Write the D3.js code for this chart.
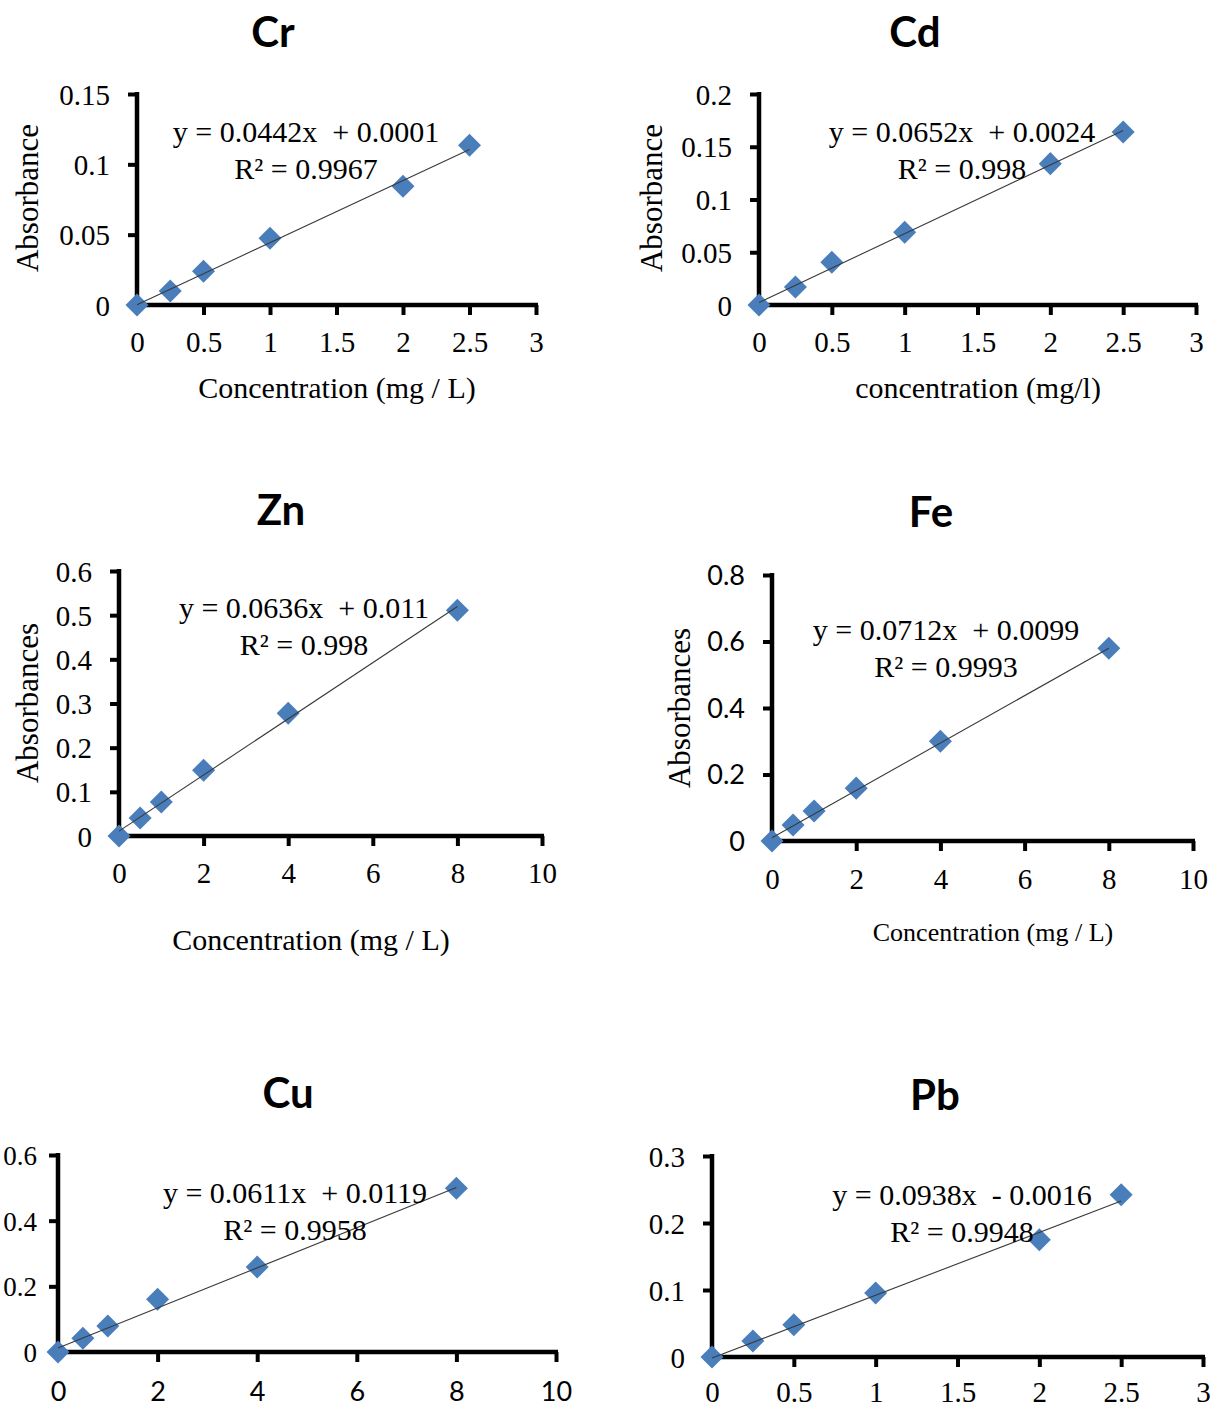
<!DOCTYPE html>
<html>
<head>
<meta charset="utf-8">
<script src="https://cdn.jsdelivr.net/npm/d3@7"></script>
<style>
  html, body { margin: 0; padding: 0; background: #ffffff; }
  svg { display: block; }
</style>
</head>
<body>
<svg id="chart" width="1212" height="1408"></svg>
<script>
// Calibration data: concentration (mg/L) and measured absorbance per metal
const crConc = [0, 0.25, 0.5, 1, 2, 2.5];
const crAbs  = [0, 0.010, 0.024, 0.0475, 0.0845, 0.1135];

const cdConc = [0, 0.25, 0.5, 1, 2, 2.5];
const cdAbs  = [0, 0.017, 0.0405, 0.069, 0.134, 0.164];

const znConc = [0, 0.5, 1, 2, 4, 8];
const znAbs  = [0, 0.041, 0.077, 0.149, 0.278, 0.511];

const feConc = [0, 0.5, 1, 2, 4, 8];
const feAbs  = [0, 0.048, 0.09, 0.159, 0.30, 0.58];

const cuConc = [0, 0.5, 1, 2, 4, 8];
const cuAbs  = [0, 0.042, 0.079, 0.161, 0.259, 0.499];

const pbConc = [0, 0.25, 0.5, 1, 2, 2.5];
const pbAbs  = [0, 0.024, 0.048, 0.0955, 0.175, 0.242];

// Linear fit parameters (slope, intercept, R²)
const metals     = ["Cr", "Cd", "Zn", "Fe", "Cu", "Pb"];
const slopes     = [0.0442, 0.0652, 0.0636, 0.0712, 0.0611, 0.0938];
const intercepts = [0.0001, 0.0024, 0.011, 0.0099, 0.0119, -0.0016];
const eqLabels   = ["y = 0.0442x  + 0.0001", "y = 0.0652x  + 0.0024", "y = 0.0636x  + 0.011",
                    "y = 0.0712x  + 0.0099", "y = 0.0611x  + 0.0119", "y = 0.0938x  - 0.0016"];
const r2Labels   = ["R² = 0.9967", "R² = 0.998", "R² = 0.998", "R² = 0.9993", "R² = 0.9958", "R² = 0.9948"];

// Axis tick values
const xTicksSmall = [0, 0.5, 1, 1.5, 2, 2.5, 3];
const xTicksLarge = [0, 2, 4, 6, 8, 10];
const yTicksCr = [0, 0.05, 0.1, 0.15];
const yTicksCd = [0, 0.05, 0.1, 0.15, 0.2];
const yTicksZn = [0, 0.1, 0.2, 0.3, 0.4, 0.5, 0.6];
const yTicksFe = [0, 0.2, 0.4, 0.6, 0.8];
const yTicksCu = [0, 0.2, 0.4, 0.6];
const yTicksPb = [0, 0.1, 0.2, 0.3];

// Axis titles
const yTitles = ["Absorbance", "Absorbance", "Absorbances", "Absorbances", null, null];
const xTitles = ["Concentration (mg / L)", "concentration (mg/l)", "Concentration (mg / L)",
                 "Concentration (mg / L)", null, null];

const SERIF = "'Liberation Serif', 'Times New Roman', serif";
const SANS  = "Lato, 'Open Sans', sans-serif";
const MARK  = "#4a7ebb";

const svg = d3.select("#chart");

// Panel geometry and styling
const panels = [
  { conc: crConc, abs: crAbs, xMax: 3, yMax: 0.15, xt: xTicksSmall, yt: yTicksCr,
    x0: 137, x1: 536, y0: 305, y1: 94, titleX: 273, titleY: 47,
    eqX: 306, eqY: 142, yTitleX: 38, yTitleY: 198, xTitleX: 337, xTitleY: 398, xTitleSize: 30,
    xFont: SERIF, yFont: SERIF, xLblDy: 47, yLblX: -27, yLblSize: 29 },
  { conc: cdConc, abs: cdAbs, xMax: 3, yMax: 0.2, xt: xTicksSmall, yt: yTicksCd,
    x0: 759, x1: 1196, y0: 305, y1: 94, titleX: 915, titleY: 47,
    eqX: 962, eqY: 142, yTitleX: 662, yTitleY: 198, xTitleX: 978, xTitleY: 398, xTitleSize: 30,
    xFont: SERIF, yFont: SERIF, xLblDy: 47, yLblX: -27, yLblSize: 29 },
  { conc: znConc, abs: znAbs, xMax: 10, yMax: 0.6, xt: xTicksLarge, yt: yTicksZn,
    x0: 119, x1: 542, y0: 836, y1: 571, titleX: 281, titleY: 525,
    eqX: 304, eqY: 618, yTitleX: 38, yTitleY: 703, xTitleX: 311, xTitleY: 950, xTitleSize: 30,
    xFont: SERIF, yFont: SERIF, xLblDy: 47, yLblX: -27, yLblSize: 29 },
  { conc: feConc, abs: feAbs, xMax: 10, yMax: 0.8, xt: xTicksLarge, yt: yTicksFe,
    x0: 772, x1: 1193, y0: 841, y1: 575, titleX: 931, titleY: 527,
    eqX: 946, eqY: 640, yTitleX: 690, yTitleY: 708, xTitleX: 993, xTitleY: 941, xTitleSize: 26,
    xFont: SERIF, yFont: SANS, xLblDy: 48, yLblX: -27, yLblSize: 27 },
  { conc: cuConc, abs: cuAbs, xMax: 10, yMax: 0.6, xt: xTicksLarge, yt: yTicksCu,
    x0: 58, x1: 556, y0: 1352, y1: 1155, titleX: 288, titleY: 1108,
    eqX: 295, eqY: 1203, xFont: SANS, yFont: SERIF, xLblDy: 49, yLblX: -21, yLblSize: 27 },
  { conc: pbConc, abs: pbAbs, xMax: 3, yMax: 0.3, xt: xTicksSmall, yt: yTicksPb,
    x0: 712, x1: 1203, y0: 1357, y1: 1156, titleX: 935, titleY: 1110,
    eqX: 962, eqY: 1205, xFont: SERIF, yFont: SERIF, xLblDy: 45, yLblX: -27, yLblSize: 29 }
];

panels.forEach((p, i) => {
  const x = d3.scaleLinear().domain([0, p.xMax]).range([p.x0, p.x1]);
  const y = d3.scaleLinear().domain([0, p.yMax]).range([p.y0, p.y1]);
  const g = svg.append("g");

  // Title
  g.append("text")
    .attr("x", p.titleX).attr("y", p.titleY)
    .attr("text-anchor", "middle")
    .style("font-family", SANS).style("font-weight", 700).style("font-size", "42px")
    .text(metals[i]);

  // X axis
  const xAxis = g.append("g")
    .attr("transform", `translate(0,${p.y0})`)
    .call(d3.axisBottom(x).tickValues(p.xt).tickSize(10).tickSizeOuter(0).tickFormat(d3.format("")));
  xAxis.select(".domain").attr("stroke", "#000").attr("stroke-width", 4.5)
    .attr("d", `M${p.x0 - 2},0H${p.x1 + 2}`);
  xAxis.selectAll(".tick line").attr("stroke", "#000").attr("stroke-width", 4);
  xAxis.selectAll(".tick text")
    .attr("y", p.xLblDy).attr("dy", null)
    .style("font-family", p.xFont).style("font-size", p.xFont === SANS ? "27px" : "29px")
    .attr("fill", "#000");
  xAxis.selectAll(".tick").filter(d => d === 0).select("line").remove();

  // Y axis
  const yAxis = g.append("g")
    .attr("transform", `translate(${p.x0},0)`)
    .call(d3.axisLeft(y).tickValues(p.yt).tickSize(9).tickSizeOuter(0).tickFormat(d3.format("")));
  yAxis.select(".domain").attr("stroke", "#000").attr("stroke-width", 4.5)
    .attr("d", `M0,${p.y1 - 2}V${p.y0 + 2}`);
  yAxis.selectAll(".tick line").attr("stroke", "#000").attr("stroke-width", 4);
  yAxis.selectAll(".tick text")
    .attr("x", p.yLblX).attr("dy", "0.35em")
    .style("font-family", p.yFont).style("font-size", p.yLblSize + "px")
    .attr("fill", "#000");
  yAxis.selectAll(".tick").filter(d => d === 0).select("line").remove();

  // Linear trendline from the fitted equation
  const xs = [0, d3.max(p.conc)];
  const fitLine = d3.line().x(d => x(d)).y(d => y(slopes[i] * d + intercepts[i]));

  // Data points
  const sym = d3.symbol().type(d3.symbolSquare).size(265);
  g.selectAll("path.pt")
    .data(p.conc.map((c, k) => [c, p.abs[k]]))
    .join("path")
    .attr("class", "pt")
    .attr("d", sym)
    .attr("transform", d => `translate(${x(d[0])},${y(d[1])}) rotate(45)`)
    .attr("fill", MARK);

  // Trendline drawn over the markers
  g.append("path")
    .datum(xs)
    .attr("fill", "none").attr("stroke", "#3a3a3a").attr("stroke-width", 1.1)
    .attr("d", fitLine);

  // Equation and R²
  g.append("text")
    .attr("x", p.eqX).attr("y", p.eqY)
    .attr("text-anchor", "middle").style("white-space", "pre")
    .style("font-family", SERIF).style("font-size", "30px")
    .text(eqLabels[i]);
  g.append("text")
    .attr("x", p.eqX).attr("y", p.eqY + 37)
    .attr("text-anchor", "middle")
    .style("font-family", SERIF).style("font-size", "30px")
    .text(r2Labels[i]);

  // Axis titles
  if (yTitles[i]) {
    g.append("text")
      .attr("transform", `translate(${p.yTitleX},${p.yTitleY}) rotate(-90)`)
      .attr("text-anchor", "middle")
      .style("font-family", SERIF).style("font-size", "31px")
      .text(yTitles[i]);
  }
  if (xTitles[i]) {
    g.append("text")
      .attr("x", p.xTitleX).attr("y", p.xTitleY)
      .attr("text-anchor", "middle").style("white-space", "pre")
      .style("font-family", SERIF).style("font-size", p.xTitleSize + "px")
      .text(xTitles[i]);
  }
});
</script>
</body>
</html>
